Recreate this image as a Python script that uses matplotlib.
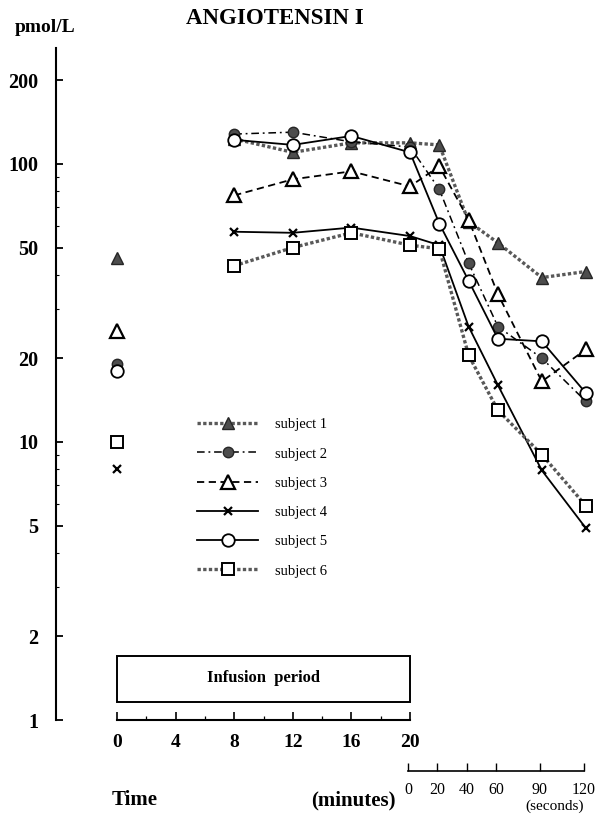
import numpy as np
import matplotlib
matplotlib.use("Agg")
from matplotlib import pyplot as plt
from matplotlib.patches import Rectangle
from matplotlib.ticker import FixedLocator, NullFormatter

# time points: minutes during infusion, then seconds after infusion stop
t_base = 0
t_min = [8, 12, 16, 20]
t_sec = [20, 40, 60, 90, 120]

# baseline values at t=0 (not connected)
base = [46, 19, 25, 8, 18, 10]

s1 = [123, 110, 119, 119, 117, 62, 52, 39, 41]
s2 = [128, 130, 120, 115, 81, 44, 26, 20, 14]
s3 = [77, 88, 94, 83, 98, 63, 34, 16.5, 21.5]
s4 = [57, 56.5, 59, 55, 51, 26, 16, 7.9, 4.9]
s5 = [122, 117, 126, 110, 61, 38, 23.5, 23, 15]
s6 = [43, 50, 56.5, 51, 49.5, 20.5, 13, 9, 5.9]

labels = ["subject 1", "subject 2", "subject 3", "subject 4", "subject 5", "subject 6"]

y_ticks = [1, 2, 5, 10, 20, 50, 100, 200]
min_ticks = [0, 4, 8, 12, 16, 20]
sec_ticks = [0, 20, 40, 60, 90, 120]

SERIF = "Liberation Serif"
gray = "0.35"

styles = [
    dict(color=gray, ls=(0, (1, 0.7)), lw=2.4, marker="^", ms=8, mfc="0.3", mec="0.15"),
    dict(color="black", ls=(0, (5, 2.5, 1.2, 2.5)), lw=1.1, marker="o", ms=7.5, mfc="0.3", mec="0.15"),
    dict(color="black", ls=(0, (4, 2.5)), lw=1.3, marker="^", ms=10, mfc="white", mec="black", mew=1.6),
    dict(color="black", ls="-", lw=1.3, marker="x", ms=5.5, mfc="black", mec="black", mew=1.6),
    dict(color="black", ls="-", lw=1.3, marker="o", ms=9, mfc="white", mec="black", mew=1.3),
    dict(color=gray, ls=(0, (1, 0.7)), lw=2.4, marker="s", ms=8.5, mfc="white", mec="black", mew=1.4),
]

def xs(sec):
    # seconds after stop, 1 s drawn as 0.1 min
    return 20 + np.asarray(sec) / 10.0

x_all = np.concatenate([t_min, xs(t_sec)])

W, H = 605, 819
fig = plt.figure(figsize=(W / 100, H / 100), dpi=100)
ax = fig.add_axes([56 / W, (H - 720) / H, 544 / W, 672 / H])
ax.set_yscale("log")
ax.set_xlim((56 - 117) / 14.65, (600 - 117) / 14.65)
ax.set_ylim(1, 261)

series = [s1, s2, s3, s4, s5, s6]
for i, (vals, st) in enumerate(zip(series, styles)):
    ax.plot(x_all, vals, label=labels[i], zorder=3 + i * 0.1, clip_on=False, **st)
    ax.plot([t_base], [base[i]], ls="none", zorder=4,
            **{k: v for k, v in st.items() if k not in ("ls", "lw", "color")})

# axes styling
for side in ["top", "right"]:
    ax.spines[side].set_visible(False)
ax.spines["left"].set_linewidth(1.5)
ax.spines["left"].set_bounds(1, 261)
ax.spines["bottom"].set_linewidth(1.5)
ax.spines["bottom"].set_bounds(0, 20)

ax.yaxis.set_major_locator(FixedLocator(y_ticks))
ax.set_yticklabels([str(v) for v in y_ticks], fontfamily=SERIF, fontweight="bold", fontsize=14.5)
minor_y = [m * 10 ** d for d in range(0, 3) for m in (3, 4, 6, 7, 8, 9) if m * 10 ** d < 261]
ax.yaxis.set_minor_locator(FixedLocator(minor_y))
ax.yaxis.set_minor_formatter(NullFormatter())
ax.tick_params(axis="y", which="major", direction="in", length=5, width=1.3, pad=13)
ax.tick_params(axis="y", which="minor", direction="in", length=2.5, width=0.8)

ax.xaxis.set_major_locator(FixedLocator(min_ticks))
ax.set_xticklabels([str(v) for v in min_ticks], fontfamily=SERIF, fontweight="bold", fontsize=14)
ax.xaxis.set_minor_locator(FixedLocator([2, 6, 10, 14, 18]))
ax.tick_params(axis="x", which="major", direction="in", length=6, width=1.2, pad=10)
ax.tick_params(axis="x", which="minor", direction="in", length=3, width=0.9)

# infusion period box
ax.add_patch(Rectangle((0, 1.16), 20, 1.70 - 1.16, fill=False, lw=1.4, ec="black", zorder=2))
ax.text(10, 1.42, "Infusion  period", ha="center", va="center", fontfamily=SERIF,
        fontweight="bold", fontsize=12)

# seconds axis
ax2 = fig.add_axes([408 / W, (H - 771) / H, 176 / W, 0.0001])
ax2.set_xlim(0, 120)
ax2.set_yticks([])
for side in ["top", "right", "left"]:
    ax2.spines[side].set_visible(False)
ax2.spines["bottom"].set_linewidth(1.2)
ax2.set_xticks(sec_ticks)
ax2.set_xticklabels([str(v) for v in sec_ticks], fontfamily=SERIF, fontsize=11.5)
ax2.tick_params(axis="x", direction="in", length=6, width=1.0, pad=8)
ax2.patch.set_visible(False)

# legend
leg = ax.legend(loc="upper left", bbox_to_anchor=(184 / W, 1 - 405 / H),
                bbox_transform=fig.transFigure, frameon=False, handlelength=4.2,
                handletextpad=1.15, labelspacing=1.1, prop={"family": SERIF, "size": 10.5})

# texts
fig.text(275 / W, 1 - 18 / H, "ANGIOTENSIN I", ha="center", va="center",
         fontfamily=SERIF, fontweight="bold", fontsize=16.5)
fig.text(45 / W, 1 - 28 / H, "pmol/L", ha="center", va="center",
         fontfamily=SERIF, fontweight="bold", fontsize=14)
fig.text(135 / W, 1 - 800 / H, "Time", ha="center", va="center",
         fontfamily=SERIF, fontweight="bold", fontsize=15)
fig.text(396 / W, 1 - 800 / H, "(minutes)", ha="right", va="center",
         fontfamily=SERIF, fontweight="bold", fontsize=15)
fig.text(584 / W, 1 - 806 / H, "(seconds)", ha="right", va="center",
         fontfamily=SERIF, fontsize=11)

fig.savefig("out.png", dpi=100)
